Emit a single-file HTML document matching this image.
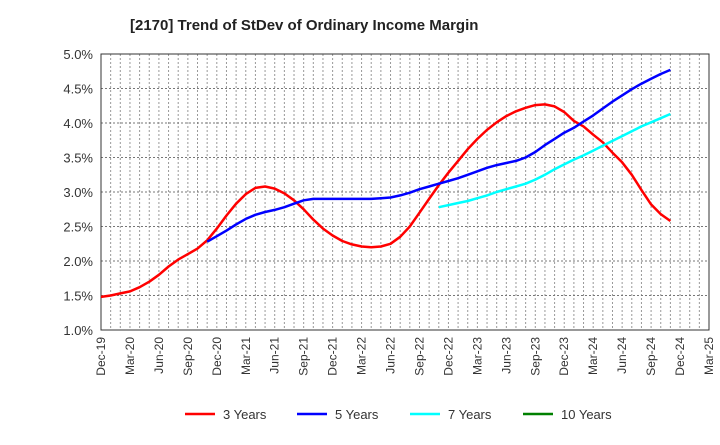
<!DOCTYPE html>
<html><head><meta charset="utf-8"><style>
body{margin:0;background:#fff;font-family:"Liberation Sans",sans-serif}
</style></head><body>
<svg id="c" width="720" height="440" xmlns="http://www.w3.org/2000/svg" font-family="Liberation Sans, sans-serif">
<text x="130" y="30" font-size="15" font-weight="bold" fill="#222">[2170]  Trend of StDev of Ordinary Income Margin</text>
<g id="grid"></g><g id="axes"></g><g id="series"></g><g id="legend"></g>
</svg>
<script>
const xLabels=["Dec-19","Mar-20","Jun-20","Sep-20","Dec-20","Mar-21","Jun-21","Sep-21","Dec-21","Mar-22","Jun-22","Sep-22","Dec-22","Mar-23","Jun-23","Sep-23","Dec-23","Mar-24","Jun-24","Sep-24","Dec-24","Mar-25"];
const yTicks=[1.0,1.5,2.0,2.5,3.0,3.5,4.0,4.5,5.0];
const red=[1.48,1.50,1.53,1.56,1.62,1.70,1.80,1.92,2.02,2.10,2.18,2.30,2.47,2.66,2.83,2.97,3.06,3.08,3.05,2.98,2.88,2.75,2.60,2.47,2.37,2.29,2.24,2.21,2.20,2.21,2.25,2.35,2.50,2.70,2.90,3.10,3.28,3.45,3.62,3.77,3.90,4.01,4.10,4.17,4.22,4.26,4.27,4.24,4.16,4.03,3.95,3.83,3.72,3.57,3.43,3.25,3.03,2.82,2.68,2.58];
const redStart=0;
const blue=[2.28,2.36,2.44,2.53,2.61,2.67,2.71,2.74,2.78,2.83,2.88,2.90,2.90,2.90,2.90,2.90,2.90,2.90,2.91,2.92,2.95,2.99,3.04,3.08,3.12,3.16,3.20,3.25,3.30,3.35,3.39,3.42,3.45,3.50,3.58,3.68,3.77,3.86,3.93,4.02,4.11,4.21,4.31,4.40,4.49,4.57,4.64,4.71,4.77];
const blueStart=11;
const cyan=[2.78,2.81,2.84,2.87,2.91,2.95,3.00,3.04,3.08,3.12,3.18,3.25,3.33,3.40,3.47,3.53,3.60,3.67,3.74,3.81,3.88,3.95,4.01,4.07,4.13];
const cyanStart=35;
const green=[];
const greenStart=0;
const L=101,R=709,T=54,B=330,NM=63;
const NS="http://www.w3.org/2000/svg";
function x(i){return L+i*(R-L)/NM;}
function y(v){return B-(v-1)/4*(B-T);}
function mk(t,a,p){const e=document.createElementNS(NS,t);for(const k in a)e.setAttribute(k,a[k]);p.appendChild(e);return e;}
const grid=document.getElementById('grid'),axes=document.getElementById('axes'),ser=document.getElementById('series'),leg=document.getElementById('legend');
for(let m=1;m<NM;m++){const g=mk('line',{x1:x(m),x2:x(m),y1:T,y2:B,stroke:'#999','stroke-width':1,'stroke-dasharray':'2,2'},grid);

}
yTicks.forEach(v=>{if(v>1){const g=mk('line',{x1:L,x2:R,y1:y(v),y2:y(v),stroke:'#777','stroke-width':1,'stroke-dasharray':'2,2'},grid);

}
const t=mk('text',{x:L-8,y:y(v)+5,'text-anchor':'end','font-size':13,fill:'#333'},axes);t.textContent=v.toFixed(1)+'%';

});
const fr=mk('rect',{x:L,y:T,width:R-L,height:B-T,fill:'none',stroke:'#333','stroke-width':1},axes);


xLabels.forEach((s,q)=>{const xx=x(q*3);const t=mk('text',{x:0,y:0,'text-anchor':'end','font-size':12,fill:'#333',transform:`translate(${xx+4},${B+7}) rotate(-90)`},axes);t.textContent=s;

});
function line(arr,st,col,name){if(!arr.length)return;const d=arr.map((v,i)=>(i?'L':'M')+x(st+i).toFixed(1)+','+y(v).toFixed(1)).join('');
const p=mk('path',{d:d,fill:'none',stroke:col,'stroke-width':2.5,'stroke-linejoin':'round'},ser);

}
line(red,redStart,'#ff0000','series-3-years');
line(blue,blueStart,'#0000ff','series-5-years');
line(cyan,cyanStart,'#00ffff','series-7-years');
line(green,greenStart,'#008000','series-10-years');
[['3 Years','#ff0000',185],['5 Years','#0000ff',297],['7 Years','#00ffff',410],['10 Years','#008000',523]].forEach(([n,c,lx])=>{
const g=mk('g',{},leg);


mk('line',{x1:lx,x2:lx+30,y1:414,y2:414,stroke:c,'stroke-width':2.5},g);
const t=mk('text',{x:lx+38,y:419,'font-size':13,fill:'#333'},g);t.textContent=n;});
</script>
</body></html>
